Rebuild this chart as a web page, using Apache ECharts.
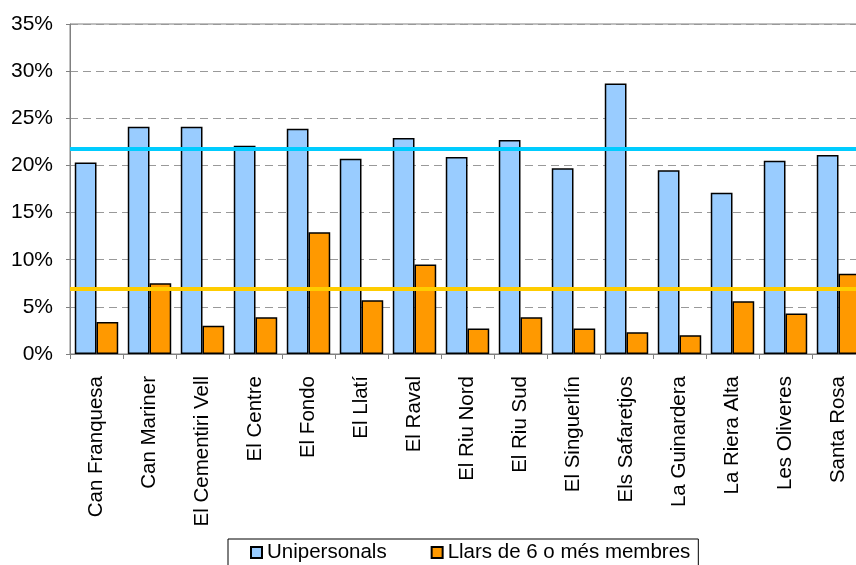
<!DOCTYPE html>
<html>
<head>
<meta charset="utf-8">
<script src="https://cdn.jsdelivr.net/npm/echarts@6/dist/echarts.min.js"></script>
<style>
  html, body { margin: 0; padding: 0; background: #fff; }
  #chart { width: 856px; height: 565px; }
</style>
</head>
<body>
<div id="chart"></div>
<script>
// Neighbourhoods (x axis)
const barris = [
  'Can Franquesa', 'Can Mariner', 'El Cementiri Vell', 'El Centre', 'El Fondo',
  'El Llatí', 'El Raval', 'El Riu Nord', 'El Riu Sud', 'El Singuerlín',
  'Els Safaretjos', 'La Guinardera', 'La Riera Alta', 'Les Oliveres', 'Santa Rosa'
];

// % one-person households
const unipersonals = [20.3, 24.1, 24.1, 22.1, 23.9, 20.7, 22.9, 20.9, 22.7, 19.7, 28.7, 19.5, 17.1, 20.5, 21.1];

// % households with 6 or more members
const llars6 = [3.4, 7.5, 3.0, 3.9, 12.9, 5.7, 9.5, 2.7, 3.9, 2.7, 2.3, 2.0, 5.6, 4.3, 8.5];

// city averages (horizontal reference lines)
const mitjanaUnipersonals = 21.8;
const mitjanaLlars6 = 6.9;

const font = 'Liberation Sans, Arial, sans-serif';

const chart = echarts.init(document.getElementById('chart'));

const option = {
  animation: false,
  textStyle: { fontFamily: font },
  grid: {
    left: 70,
    top: 24,
    right: -9,
    bottom: 211,
    outerBoundsMode: 'none',
    containLabel: false,
    show: true,
    borderColor: '#808080',
    borderWidth: 1,
  },
  legend: {
    left: 228,
    top: 539,
    orient: 'horizontal',
    padding: [3, 8, 4, 22],
    itemGap: 44,
    itemWidth: 11,
    itemHeight: 11,
    icon: 'rect',
    borderColor: '#000',
    borderWidth: 1,
    textStyle: { fontFamily: font, fontSize: 20.5, color: '#000' },
    data: ['Unipersonals', 'Llars de 6 o més membres'],
  },
  xAxis: {
    type: 'category',
    data: barris,
    axisLine: { lineStyle: { color: '#808080' } },
    axisTick: { show: true, length: 5, lineStyle: { color: '#808080' } },
    axisLabel: {
      rotate: 90,
      interval: 0,
      margin: 22,
      fontFamily: font,
      fontSize: 20.5,
      color: '#000',
    },
  },
  yAxis: {
    type: 'value',
    min: 0,
    max: 35,
    interval: 5,
    axisLine: { show: true, lineStyle: { color: '#808080' } },
    axisTick: { show: true, length: 4, lineStyle: { color: '#808080' } },
    axisLabel: {
      formatter: '{value}%',
      margin: 17,
      fontFamily: font,
      fontSize: 21,
      color: '#000',
    },
    splitLine: { lineStyle: { color: '#999', type: [8, 5] } },
  },
  series: [
    {
      name: 'Unipersonals',
      type: 'bar',
      data: unipersonals,
      barGap: '0%',
      barCategoryGap: '18%',
      itemStyle: { color: '#99CCFF', borderColor: '#000', borderWidth: 1.5 },
      markLine: {
        silent: true,
        symbol: 'none',
        label: { show: false },
        lineStyle: { color: '#00CCFF', width: 4, type: 'solid' },
        data: [{ yAxis: mitjanaUnipersonals }],
      },
      z: 2,
    },
    {
      name: 'Llars de 6 o més membres',
      type: 'bar',
      data: llars6,
      itemStyle: { color: '#FF9900', borderColor: '#000', borderWidth: 1.5 },
      markLine: {
        silent: true,
        symbol: 'none',
        label: { show: false },
        lineStyle: { color: '#FFCC00', width: 4, type: 'solid' },
        data: [{ yAxis: mitjanaLlars6 }],
      },
      z: 2,
    },
  ],
};

chart.setOption(option);
</script>
</body>
</html>
